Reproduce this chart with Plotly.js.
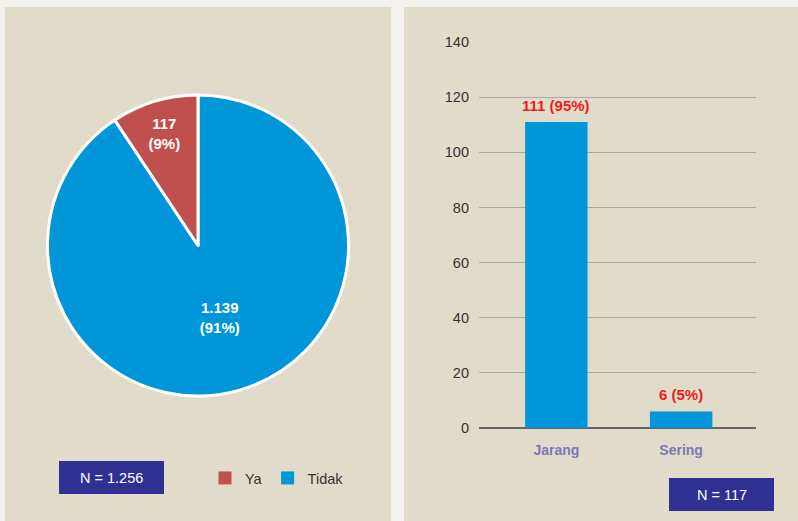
<!DOCTYPE html>
<html><head><meta charset="utf-8">
<script src="https://cdn.plot.ly/plotly-3.0.1.min.js"></script>
<style>html,body{margin:0;padding:0;background:#f3f2ee;}#c{width:798px;height:521px;}</style>
</head><body><div id="c"></div>
<script>
var pieLabels = ["Ya", "Tidak"];
var pieValues = [117, 1139];
var pieColors = ["#c0504d", "#0096d7"];
var barCats = ["Jarang", "Sering"];
var barValues = [111, 6];
var barPct = ["95%", "5%"];
var yTicks = [0, 20, 40, 60, 80, 100, 120, 140];
var nLeft = "N = 1.256";
var nRight = "N = 117";

var W = 798, H = 521;
function px(x){return x/W;}
function py(y){return 1-y/H;}

var FONT = "Liberation Sans, Arial, sans-serif";

// drawn in reverse order clockwise so "Ya" ends at 12 o'clock on the left side
var pie = {
  type: "pie", labels: pieLabels.slice().reverse(), values: pieValues.slice().reverse(), sort: false,
  direction: "clockwise", rotation: 0,
  marker: {colors: pieColors.slice().reverse(), line: {color: "#ffffff", width: 3}},
  texttemplate: "%{value:,}<br>(%{percent:.0%})",
  textposition: "inside", insidetextorientation: "horizontal",
  textfont: {color: "#ffffff", size: 15, family: FONT, weight: "bold"},
  hoverinfo: "none", showlegend: false,
  domain: {x: [px(47), px(349)], y: [py(396), py(95)]}
};
var legendTraces = pieLabels.map(function(lab, i){
  return {type: "scatter", mode: "markers", x: [0], y: [0], xaxis: "x2", yaxis: "y2", name: lab, showlegend: true,
          marker: {symbol: "square", size: 13, color: pieColors[i], line: {width: 0}}, hoverinfo: "none"};
});
var bar = {
  type: "bar", x: barCats, y: barValues,
  marker: {color: "#0096d7"}, width: 0.5,
  showlegend: false, hoverinfo: "none"
};

var barAnn = barCats.map(function(c, i){
  return {x: c, y: barValues[i], xref: "x", yref: "y", text: barValues[i] + " (" + barPct[i] + ")",
          showarrow: false, yanchor: "bottom", xanchor: "center", yshift: 6,
          font: {color: "#ed1c24", size: 15, family: FONT, weight: "bold"}};
});

var layout = {
  width: W, height: H, margin: {l:0, r:0, t:0, b:0},
  paper_bgcolor: "#f3f2ee", plot_bgcolor: "rgba(0,0,0,0)",
  separators: ",.",
  font: {family: FONT, color: "#333333", size: 14},
  showlegend: true,
  legend: {orientation: "h", x: px(205), y: py(478), yanchor: "middle", xanchor: "left",
           font: {size: 14.5, color: "#333333", family: FONT}, bgcolor: "rgba(0,0,0,0)", traceorder: "normal"},
  xaxis: {domain: [px(479), px(756)], range: [-0.62, 1.6], showgrid: false, zeroline: false,
          showline: false, ticks: "", ticklabelstandoff: 12,
          tickfont: {size: 14, color: "#7a78b8", family: FONT, weight: "bold"}, fixedrange: true},
  yaxis: {domain: [py(428), py(42)], range: [0, 140], tickvals: yTicks, showgrid: true, gridcolor: "#a9a9a9",
          gridwidth: 1, zeroline: true, zerolinecolor: "#666666", zerolinewidth: 1.5, showline: false, ticks: "",
          ticklabelstandoff: 9, tickfont: {size: 14.5, color: "#333333", family: FONT}, fixedrange: true},
  xaxis2: {domain: [0, 0.01], range: [10, 11], visible: false, fixedrange: true},
  yaxis2: {domain: [0, 0.01], range: [10, 11], visible: false, fixedrange: true},
  shapes: [
    {type: "rect", xref: "paper", yref: "paper", x0: px(5), x1: px(391), y0: py(521), y1: py(7),
     fillcolor: "#e1dcca", line: {width: 0}, layer: "below"},
    {type: "rect", xref: "paper", yref: "paper", x0: px(404), x1: px(798), y0: py(521), y1: py(7),
     fillcolor: "#e1dcca", line: {width: 0}, layer: "below"},
    {type: "rect", xref: "paper", yref: "paper", x0: px(59), x1: px(164), y0: py(494), y1: py(461),
     fillcolor: "#2e3192", line: {width: 0}},
    {type: "rect", xref: "paper", yref: "paper", x0: px(669), x1: px(774), y0: py(511), y1: py(478),
     fillcolor: "#2e3192", line: {width: 0}}
  ],
  annotations: [
    {xref: "paper", yref: "paper", x: px(111.5), y: py(477.5), text: nLeft, showarrow: false,
     xanchor: "center", yanchor: "middle", font: {color: "#ffffff", size: 14.5, family: FONT}},
    {xref: "paper", yref: "paper", x: px(721.5), y: py(494.5), text: nRight, showarrow: false,
     xanchor: "center", yanchor: "middle", font: {color: "#ffffff", size: 14.5, family: FONT}}
  ].concat(barAnn)
};
Plotly.newPlot("c", [pie, bar].concat(legendTraces), layout, {displayModeBar: false, staticPlot: true});
</script></body></html>
